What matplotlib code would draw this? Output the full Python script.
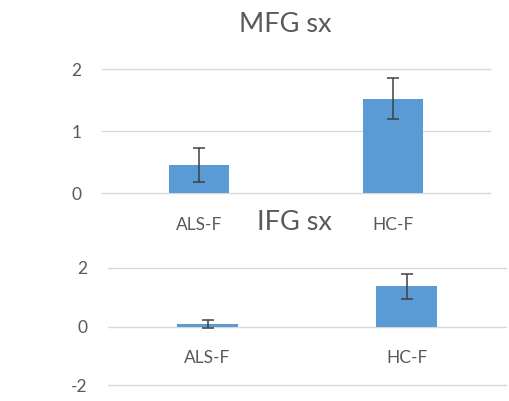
import matplotlib
matplotlib.use("Agg")
import matplotlib.pyplot as plt

# Group labels and values for the two regions
categories = ["ALS-F", "HC-F"]
mfg_means = [0.45, 1.52]
mfg_errors = [0.28, 0.33]
ifg_means = [0.09, 1.37]
ifg_errors = [0.14, 0.42]

BAR_COLOR = "#5B9BD5"
GRID_COLOR = "#D9D9D9"
TEXT_COLOR = "#595959"
ERR_COLOR = "#404040"
FONT = ["Lato", "DejaVu Sans"]

W, H = 509, 401
fig = plt.figure(figsize=(W / 100, H / 100), dpi=100)
fig.patch.set_facecolor("white")


def px_axes(x0, x1, y_top, y_bot):
    return fig.add_axes([x0 / W, (H - y_bot) / H, (x1 - x0) / W, (y_bot - y_top) / H])


def style(ax, ylim, yticks, pad, zero_axis=False):
    for s in ax.spines.values():
        s.set_visible(False)
    if zero_axis:
        ax.spines["bottom"].set_position(("data", 0))
    ax.set_ylim(*ylim)
    ax.set_xlim(-0.5, len(categories) - 0.5)
    ax.set_yticks(yticks)
    ax.set_yticklabels([str(t) for t in yticks], fontsize=12.5, color=TEXT_COLOR, family=FONT)
    ax.set_xticks(range(len(categories)))
    ax.set_xticklabels(categories, fontsize=12.5, color=TEXT_COLOR, family=FONT)
    ax.tick_params(axis="y", length=0, pad=pad)
    ax.tick_params(axis="x", length=0, pad=17)
    ax.yaxis.grid(True, color=GRID_COLOR, linewidth=1.0)
    for gl in ax.get_ygridlines():
        gl.set_clip_on(False)
    ax.set_axisbelow(True)
    ax.patch.set_alpha(0)


def draw_bars(ax, means, errors):
    x = range(len(categories))
    ax.bar(x, means, width=0.31, color=BAR_COLOR, zorder=2)
    ax.errorbar(x, means, yerr=errors, fmt="none", ecolor=ERR_COLOR,
                elinewidth=1.1, capsize=4, capthick=1.1, zorder=3)


# MFG sx
ax1 = px_axes(102, 490, 69, 193)
style(ax1, (0, 2), [0, 1, 2], 15)
draw_bars(ax1, mfg_means, mfg_errors)
fig.text(285 / W, (H - 32) / H, "MFG sx", ha="center", va="baseline",
         fontsize=19.5, color=TEXT_COLOR, family=FONT)

# IFG sx
ax2 = px_axes(108, 506, 267.7, 385.3)
style(ax2, (-2, 2), [-2, 0, 2], 15, zero_axis=True)
draw_bars(ax2, ifg_means, ifg_errors)
fig.text(294 / W, (H - 230) / H, "IFG sx", ha="center", va="baseline",
         fontsize=19.5, color=TEXT_COLOR, family=FONT)

fig.savefig("out.png", dpi=100, facecolor="white")
